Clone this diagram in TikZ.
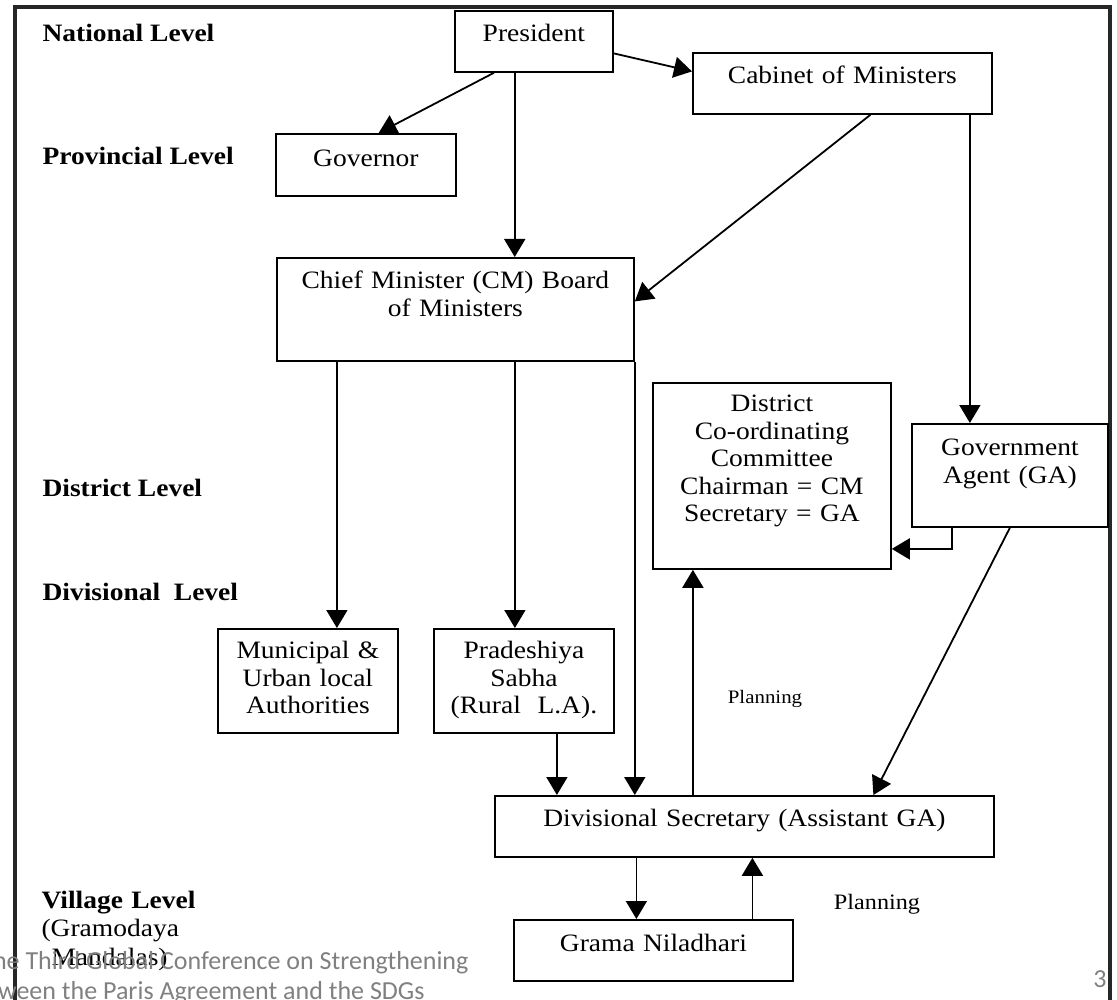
\documentclass[tikz,border=0pt]{standalone}
\usepackage{fontspec}
\setmainfont[FakeStretch=1.1]{Liberation Serif}
\newfontfamily\slidefont{Carlito}
\usetikzlibrary{arrows.meta,calc}

\tikzset{
  box/.style={draw, line width=1.8pt, inner sep=0pt, align=center, anchor=north west, text height=31pt},
  level/.style={anchor=base west, font=\fontsize{25}{27.5}\selectfont\bfseries},
  arr/.style={line width=1.8pt, -{Triangle[length=18pt,width=21pt]}},
  slide/.style={text=gray, font=\slidefont\fontsize{26}{30}\selectfont}
}

\begin{document}
\begin{tikzpicture}[x=1pt, y=-1pt, font=\fontsize{25}{27.5}\selectfont]
\useasboundingbox (0,0) rectangle (1117,1000);
\clip (0,0) rectangle (1117,1000);

% Slide frame
\draw[line width=4.5pt, black!85] (15,1000) -- (15,7) -- (1110,7) -- (1110,1000);

% Levels
\node[level] (natl) at (39,42) {National Level};
\node[level] (prov) at (39,165) {Provincial Level};
\node[level] (dist) at (39,496) {District Level};
\node[level] (divl) at (39,600) {Divisional~~Level};
\node[anchor=base west, text width=220pt, align=left, font=\fontsize{25}{28.5}\selectfont] (vill) at (38,908)
  {\textbf{Village Level}\\(Gramodaya\\\hspace*{10pt}Mandalas)};

% Boxes
\node[box, text width=158pt, text depth=30pt] (pres) at (454,10) {President};
\node[box, text width=299pt, text depth=30pt] (cab) at (692,52) {Cabinet of Ministers};
\node[box, text width=180pt, text height=33pt, text depth=29pt] (gov) at (275,133) {Governor};
\node[box, text width=357pt, text depth=72pt] (cm) at (276,257) {Chief Minister (CM) Board\\of Ministers};
\node[box, text width=238pt, text height=29pt, text depth=157pt] (dcc) at (652,382)
  {District\\Co-ordinating\\Committee\\Chairman = CM\\Secretary = GA};
\node[box, text width=196pt, text height=32pt, text depth=71pt] (ga) at (911,423) {Government\\Agent (GA)};
\node[box, text width=180pt, text height=30pt, text depth=74pt] (mun) at (217,628) {Municipal \&\\Urban local\\Authorities};
\node[box, text width=180pt, text height=30pt, text depth=74pt] (pra) at (433,628) {Pradeshiya\\Sabha\\(Rural~~L.A).};
\node[box, text width=499pt, text depth=30pt] (ds) at (494,795) {Divisional Secretary (Assistant GA)};
\node[box, text width=279pt, text height=32pt, text depth=29pt] (gn) at (513,919) {Grama Niladhari};

% Feet of the vertical arrows
\path ($(pres.south west)!0.38!(pres.south east)$) coordinate (p1);
\path ([xshift=-40pt]ga.north) coordinate (g1);
\path ([xshift=29pt]mun.north) coordinate (m1);
\path ([xshift=-9pt]pra.north) coordinate (m2);
\path ([xshift=33pt]pra.south) coordinate (m3);
\path ([xshift=-79pt]dcc.south) coordinate (d1);
\path ([xshift=-17pt]gn.north) coordinate (n1);
\path ([xshift=99pt]gn.north) coordinate (n2);

% National and provincial links
\draw[arr] ($(pres.south west)!0.25!(pres.south east)$) -- ($(gov.north west)!0.57!(gov.north east)$);
\draw[arr] ([yshift=-12pt]pres.east) -- ([yshift=12pt]cab.west);
\draw[arr] (p1) -- (p1 |- cm.north);
\draw[arr] ([xshift=28pt]cab.south) -- ([yshift=8pt]cm.east);
\draw[arr] (g1 |- cab.south) -- (g1);

% District and divisional links
\draw[arr] (m1 |- cm.south) -- (m1);
\draw[arr] (m2 |- cm.south) -- (m2);
\draw[arr] (cm.south east) -- (cm.south east |- ds.north);
\draw[arr] (m3) -- (m3 |- ds.north);
\draw[arr] (d1 |- ds.north) -- (d1);
\draw[arr] ([xshift=-58pt]ga.south) |- ([yshift=-73pt]dcc.east);
\draw[arr] (ga.south) -- ([xshift=129pt]ds.north);
\node[anchor=base, font=\fontsize{19}{22}\selectfont] (plan1) at (765,703) {Planning};

% Village links
\draw[arr] (n1 |- ds.south) -- (n1);
\draw[arr] (n2) -- (n2 |- ds.south);
\node[anchor=base, font=\fontsize{22}{25}\selectfont] (plan2) at (877,909) {Planning};

% Slide footer
\node[slide, anchor=base east] (conf1) at (472,969) {the Third Global Conference on Strengthening};
\node[slide, anchor=base east] (conf2) at (428,999) {between the Paris Agreement and the SDGs};
\node[slide, anchor=base] (pnum) at (1100,987) {3};
\end{tikzpicture}
\end{document}
